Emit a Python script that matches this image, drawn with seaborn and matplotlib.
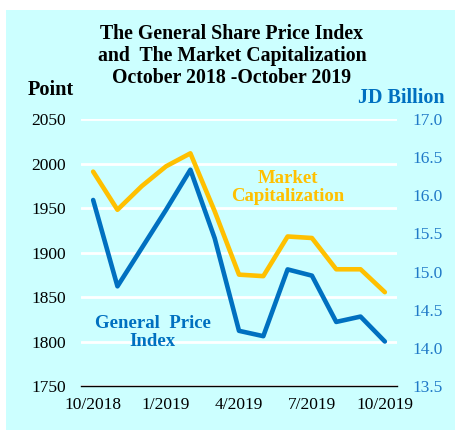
import numpy as np
import pandas as pd
import matplotlib
matplotlib.use("Agg")
import matplotlib.pyplot as plt
import seaborn as sns
from matplotlib.patches import Rectangle

# monthly values, Oct 2018 .. Oct 2019
months = ["10/2018", "11/2018", "12/2018", "1/2019", "2/2019", "3/2019", "4/2019",
          "5/2019", "6/2019", "7/2019", "8/2019", "9/2019", "10/2019"]
price_index = [1959, 1862, 1905, 1948, 1993, 1916, 1812, 1806, 1881, 1874, 1822, 1828, 1800]
market_cap = [16.31, 15.81, 16.12, 16.38, 16.55, 15.79, 14.96, 14.94, 15.46, 15.44, 15.03, 15.03, 14.73]

left_ticks = [1750, 1800, 1850, 1900, 1950, 2000, 2050]
right_ticks = [13.5, 14.0, 14.5, 15.0, 15.5, 16.0, 16.5, 17.0]
shown_labels = ["10/2018", "1/2019", "4/2019", "7/2019", "10/2019"]

BLUE = "#0070C0"
TICKBLUE = "#2079C7"
GOLD = "#FFC000"
BG = "#CCFFFF"

sns.set_style("white")
plt.rcParams["font.family"] = ["Liberation Serif", "DejaVu Serif"]
plt.rcParams["text.color"] = "black"
plt.rcParams["xtick.color"] = "black"
plt.rcParams["ytick.color"] = "black"

df = pd.DataFrame({"pos": np.arange(len(months)), "month": months,
                   "index": price_index, "cap": market_cap})

fig = plt.figure(figsize=(4.55, 4.30), dpi=100)
fig.patch.set_facecolor("white")
fig.patches.append(Rectangle((6 / 455, 0), 1, 1 - 10 / 430, transform=fig.transFigure,
                             facecolor=BG, edgecolor="none", zorder=-10))

ax = fig.add_axes([81 / 455, 1 - 386 / 430, 316 / 455, 267 / 430])
ax.set_facecolor("none")
ax2 = ax.twinx()

sns.lineplot(data=df, x="pos", y="index", ax=ax, color=BLUE, linewidth=3.3, zorder=3)
sns.lineplot(data=df, x="pos", y="cap", ax=ax2, color=GOLD, linewidth=3.3, zorder=3)

ax.set_xlim(-0.5, len(months) - 0.5)
ax.set_ylim(1750, 2050)
ax2.set_ylim(13.5, 17.0)
ax.set_yticks(left_ticks)
ax.set_yticklabels([str(t) for t in left_ticks], fontsize=12.5, color="black")
ax2.set_yticks(right_ticks)
ax2.set_yticklabels([f"{t:.1f}" for t in right_ticks], fontsize=12.5, color=TICKBLUE)

label_pos = [months.index(m) for m in shown_labels]
ax.set_xticks(label_pos)
ax.set_xticklabels(shown_labels, fontsize=12.5, color="black")
ax.set_xticks(np.arange(-0.5, len(months)), minor=True)
ax.tick_params(axis="x", which="major", length=0, pad=8)
ax.tick_params(axis="x", which="minor", length=5, width=0.8, color="black", direction="out")
ax.tick_params(axis="y", length=0, pad=11)
ax2.tick_params(axis="y", length=0, pad=11)
ax.set_xlabel("")
ax.set_ylabel("")
ax2.set_ylabel("")

ax.grid(axis="y", color="white", linewidth=2)
ax.set_axisbelow(True)
for a in (ax, ax2):
    for s in ("left", "right", "top", "bottom"):
        a.spines[s].set_visible(False)
ax.spines["bottom"].set_visible(True)
ax.spines["bottom"].set_color("black")
ax.spines["bottom"].set_linewidth(1)

ax.text(8.0, 1973, "Market\nCapitalization", color=GOLD, fontsize=13.5, fontweight="bold",
        ha="center", va="center", linespacing=1.1)
ax.text(2.45, 1810, "General  Price\nIndex", color=BLUE, fontsize=13.5, fontweight="bold",
        ha="center", va="center", linespacing=1.1)

fig.text(232 / 455, 1 - 56 / 430,
         "The General Share Price Index\nand  The Market Capitalization\nOctober 2018 -October 2019",
         ha="center", va="center", fontsize=14.3, fontweight="bold", linespacing=1.12)
fig.text(28 / 455, 1 - 90 / 430, "Point", ha="left", va="center", fontsize=14.6, fontweight="bold")
fig.text(445 / 455, 1 - 98 / 430, "JD Billion", ha="right", va="center", fontsize=14.5,
         fontweight="bold", color=BLUE)

fig.savefig("out.png", dpi=100)
